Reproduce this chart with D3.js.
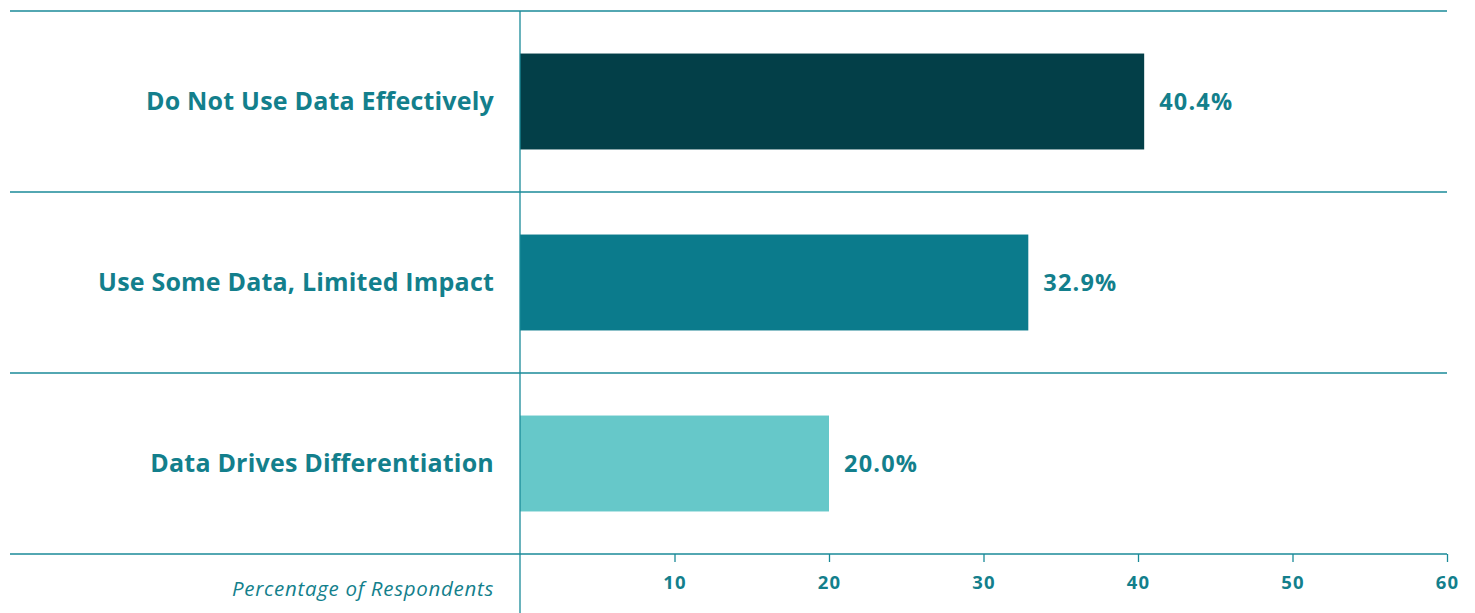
<!DOCTYPE html>
<html>
<head>
<meta charset="utf-8">
<script src="https://cdn.jsdelivr.net/npm/d3@7"></script>
<style>
  html, body { margin: 0; padding: 0; background: #fff; }
  svg { display: block; }
</style>
</head>
<body>
<svg id="chart" width="1475" height="613"></svg>
<script>
// Survey results: how organisations use data
const categories = ["Do Not Use Data Effectively", "Use Some Data, Limited Impact", "Data Drives Differentiation"];
const values = [40.4, 32.9, 20.0];
const barColors = ["#033f48", "#0b7b8c", "#66c8c9"];
const tickValues = [10, 20, 30, 40, 50, 60];
const axisTitle = "Percentage of Respondents";

const ink = "#137f8c";
const rule = "#1a8a98";
const font = "'Open Sans', Lato, sans-serif";

const svg = d3.select("#chart");
const plotLeft = 520, plotRight = 1447, plotTop = 11, plotBottom = 554, frameLeft = 10;

const x = d3.scaleLinear().domain([0, 60]).range([plotLeft, plotRight]);
const rows = d3.scaleBand().domain(categories).range([plotTop, plotBottom]).paddingInner(0);
const bars = d3.scaleBand().domain(categories).range([plotTop, plotBottom]).paddingInner(0.47).paddingOuter(0.235);

// horizontal row separators
const boundaries = categories.map(c => rows(c)).concat([plotBottom]);
svg.append("g").selectAll("line").data(boundaries).join("line")
  .attr("x1", frameLeft).attr("x2", plotRight)
  .attr("y1", d => d).attr("y2", d => d)
  .attr("stroke", rule).attr("stroke-width", 1.3);

// bars
svg.append("g").selectAll("rect").data(values).join("rect")
  .attr("x", x(0))
  .attr("y", (d, i) => bars(categories[i]))
  .attr("width", d => x(d) - x(0))
  .attr("height", bars.bandwidth())
  .attr("fill", (d, i) => barColors[i]);

// value labels
svg.append("g").selectAll("text").data(values).join("text")
  .attr("x", d => x(d) + 15)
  .attr("y", (d, i) => bars(categories[i]) + bars.bandwidth() / 2)
  .attr("dy", "0.35em")
  .attr("fill", ink)
  .style("font-family", font).style("font-weight", 700).style("font-size", "23.5px")
  .style("letter-spacing", "1.2px")
  .text(d => d.toFixed(1) + "%");

// category labels
svg.append("g").selectAll("text").data(categories).join("text")
  .attr("x", plotLeft - 26)
  .attr("y", d => rows(d) + rows.bandwidth() / 2)
  .attr("dy", "0.35em")
  .attr("text-anchor", "end")
  .attr("fill", ink)
  .style("font-family", font).style("font-weight", 700).style("font-size", "25px")
  .style("letter-spacing", "0.2px")
  .text(d => d);

// x axis
const axis = d3.axisBottom(x).tickValues(tickValues).tickSize(8).tickPadding(14);
const gx = svg.append("g").attr("transform", `translate(0,${plotBottom})`).call(axis);
gx.select(".domain").remove();
gx.selectAll(".tick line").attr("stroke", rule).attr("stroke-width", 1.3);
gx.selectAll(".tick text")
  .attr("fill", ink)
  .style("font-family", font).style("font-weight", 700).style("font-size", "18.5px")
  .style("letter-spacing", "1.2px");

// vertical zero line
svg.append("line")
  .attr("x1", x(0)).attr("x2", x(0))
  .attr("y1", plotTop).attr("y2", 613)
  .attr("stroke", rule).attr("stroke-width", 1.3);

// axis title
svg.append("text")
  .attr("x", plotLeft - 26)
  .attr("y", 589)
  .attr("dy", "0.35em")
  .attr("text-anchor", "end")
  .attr("fill", ink)
  .style("font-family", font).style("font-style", "italic").style("font-size", "20.5px")
  .style("letter-spacing", "0.7px")
  .text(axisTitle);
</script>
</body>
</html>
